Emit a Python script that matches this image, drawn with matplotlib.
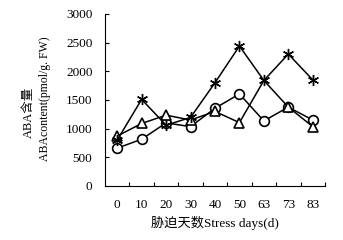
import numpy as np
import matplotlib
matplotlib.use("Agg")
import matplotlib.pyplot as plt

days = ["0", "10", "20", "30", "40", "50", "63", "73", "83"]
aba_star = [800, 1510, 1060, 1195, 1800, 2440, 1840, 2300, 1850]
aba_triangle = [870, 1090, 1235, 1150, 1300, 1105, 1840, 1375, 1035]
aba_circle = [660, 815, 1100, 1035, 1355, 1605, 1135, 1375, 1150]
yticks = [0, 500, 1000, 1500, 2000, 2500, 3000]

fam = ["Liberation Serif", "Noto Sans CJK SC"]
num_font = {"family": fam, "size": 9.5}

fig = plt.figure(figsize=(3.43, 2.40), dpi=100)
ax = fig.add_axes([0.306, 0.225, 0.6415, 0.717])

x = np.arange(len(days))
lw = 1.1
ax.plot(x, aba_circle, color="black", linewidth=lw, marker="o",
        markersize=7, markerfacecolor="white", markeredgewidth=1.2, zorder=3)
# triangle at day 63 sits under the asterisk in the original, not drawn
ax.plot(x, aba_triangle, color="black", linewidth=lw, marker="^",
        markevery=[0, 1, 2, 3, 4, 5, 7, 8],
        markersize=7, markerfacecolor="white", markeredgewidth=1.2, zorder=3)
ax.plot(x, aba_star, color="black", linewidth=lw, marker=(6, 2, 0),
        markersize=8, markeredgewidth=1.0, zorder=3)

ax.set_xlim(-0.5, 8.5)
ax.set_ylim(0, 3000)
ax.set_yticks(yticks)
ax.set_yticklabels([str(v) for v in yticks], **num_font)
ax.set_xticks(x + 0.5)
ax.set_xticklabels([])
ax.set_xticks(x, minor=True)
ax.set_xticklabels(days, minor=True, **num_font)
ax.tick_params(axis="x", which="major", direction="in", length=3, width=0.8)
ax.tick_params(axis="x", which="minor", length=0, pad=9)
ax.tick_params(axis="y", direction="in", length=3, width=0.8, pad=9)

ax.spines["top"].set_visible(False)
ax.spines["right"].set_visible(False)
for s in ["left", "bottom"]:
    ax.spines[s].set_linewidth(0.8)

ax.set_xlabel("胁迫天数Stress days(d)", family=fam, size=9.5, labelpad=4)
fig.text(29 / 343, 1 - 112 / 240, "ABA含量", rotation=90, ha="center", va="center",
         family=fam, size=9)
fig.text(45 / 343, 1 - 99 / 240, "ABAcontent(pmol/g. FW)", rotation=90, ha="center",
         va="center", family=fam, size=8.5)

plt.savefig("out.png", dpi=100)
